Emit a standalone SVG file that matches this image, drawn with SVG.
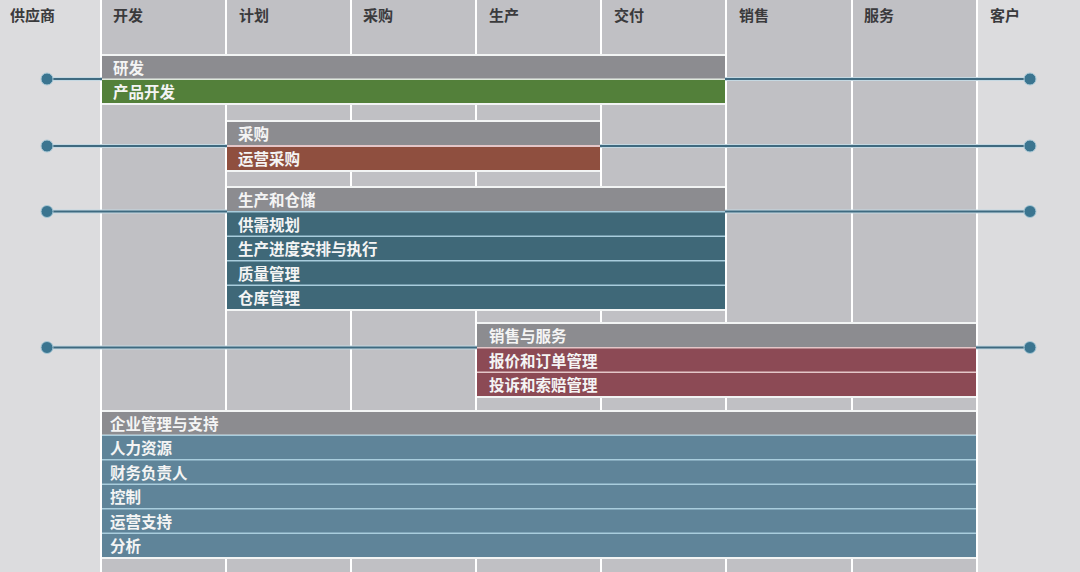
<svg xmlns="http://www.w3.org/2000/svg" width="1080" height="572" viewBox="0 0 1080 572">
<style>
.outer{fill:#dcdcde}
.col{fill:#c0c0c4}
.hd{font-family:"Noto Sans CJK SC","Noto Sans",sans-serif;font-size:15px;font-weight:bold;fill:#3a3a3c}
.lb{font-family:"Noto Sans CJK SC","Noto Sans",sans-serif;font-size:15.5px;font-weight:bold;fill:#f4f4f4}
.frame{fill:#f2f4f4}
.gray{fill:#8c8c90}
.green{fill:#53803a}
.brown{fill:#8f4f3f}
.teal{fill:#3f6878}
.wine{fill:#8c4a55}
.blue{fill:#5f8499}
.gapb{fill:#a9cddd}
.gapp{fill:#e4c6c8}
.gapg{fill:#dfe8dc}
.halo{stroke:#c4d8e2;stroke-width:4;fill:none}
.ln{stroke:#3f6a80;stroke-width:2;fill:none}
.dot{fill:#3b7590;stroke:#a8c8d6;stroke-width:1}
</style>
<rect x="0" y="0" width="1080" height="572" fill="#ffffff"/>
<g id="columns">
<rect class="outer" x="0" y="0" width="100" height="572"/>
<rect class="col" x="102" y="0" width="123" height="572"/>
<rect class="col" x="227" y="0" width="123" height="572"/>
<rect class="col" x="352" y="0" width="123" height="572"/>
<rect class="col" x="477" y="0" width="123" height="572"/>
<rect class="col" x="602" y="0" width="123" height="572"/>
<rect class="col" x="727" y="0" width="124" height="572"/>
<rect class="col" x="853" y="0" width="123" height="572"/>
<rect class="outer" x="978" y="0" width="102" height="572"/>
<text class="hd" x="10" y="21">供应商</text>
<text class="hd" x="113" y="21">开发</text>
<text class="hd" x="239" y="21">计划</text>
<text class="hd" x="363" y="21">采购</text>
<text class="hd" x="489" y="21">生产</text>
<text class="hd" x="614" y="21">交付</text>
<text class="hd" x="739" y="21">销售</text>
<text class="hd" x="864" y="21">服务</text>
<text class="hd" x="990" y="21">客户</text>
</g>
<g id="connectors">
<path class="halo" d="M47 79H102M725 79H1030M47 146H227M600 146H1030M47 211.5H227M725 211.5H1030M47 347.5H477M976 347.5H1030"/>
<path class="ln" d="M47 79H102M725 79H1030M47 146H227M600 146H1030M47 211.5H227M725 211.5H1030M47 347.5H477M976 347.5H1030"/>
<circle class="dot" cx="47" cy="79" r="6"/>
<circle class="dot" cx="1030" cy="79" r="6"/>
<circle class="dot" cx="47" cy="146" r="6"/>
<circle class="dot" cx="1030" cy="146" r="6"/>
<circle class="dot" cx="47" cy="211.5" r="6"/>
<circle class="dot" cx="1030" cy="211.5" r="6"/>
<circle class="dot" cx="47" cy="347.5" r="6"/>
<circle class="dot" cx="1030" cy="347.5" r="6"/>
</g>
<g id="rd">
<rect class="frame" x="102" y="54" width="623" height="51"/>
<rect class="gapg" x="102" y="78.5" width="623" height="2"/>
<rect class="gray" x="102" y="56" width="623" height="22.5"/>
<text class="lb" x="113" y="74">研发</text>
<rect class="green" x="102" y="80" width="623" height="23"/>
<text class="lb" x="113" y="98">产品开发</text>
</g>
<g id="purchasing">
<rect class="frame" x="227" y="120" width="373" height="52"/>
<rect class="gapp" x="227" y="145" width="373" height="2"/>
<rect class="gray" x="227" y="122" width="373" height="23"/>
<text class="lb" x="238" y="140">采购</text>
<rect class="brown" x="227" y="147" width="373" height="23"/>
<text class="lb" x="238" y="165">运营采购</text>
</g>
<g id="production">
<rect class="frame" x="227" y="186" width="498" height="125"/>
<rect class="gapb" x="227" y="211" width="498" height="98"/>
<rect class="gray" x="227" y="188" width="498" height="23"/>
<text class="lb" x="238" y="206">生产和仓储</text>
<rect class="teal" x="227" y="212.5" width="498" height="23"/>
<text class="lb" x="238" y="230.5">供需规划</text>
<rect class="teal" x="227" y="237" width="498" height="23"/>
<text class="lb" x="238" y="255">生产进度安排与执行</text>
<rect class="teal" x="227" y="261.5" width="498" height="23"/>
<text class="lb" x="238" y="279.5">质量管理</text>
<rect class="teal" x="227" y="286" width="498" height="23"/>
<text class="lb" x="238" y="304">仓库管理</text>
</g>
<g id="sales">
<rect class="frame" x="477" y="322" width="499" height="76"/>
<rect class="gapp" x="477" y="347" width="499" height="49"/>
<rect class="gray" x="477" y="324" width="499" height="23"/>
<text class="lb" x="489" y="342">销售与服务</text>
<rect class="wine" x="477" y="348.5" width="499" height="23"/>
<text class="lb" x="489" y="366.5">报价和订单管理</text>
<rect class="wine" x="477" y="373" width="499" height="23"/>
<text class="lb" x="489" y="391">投诉和索赔管理</text>
</g>
<g id="enterprise">
<rect class="frame" x="102" y="410" width="874" height="149"/>
<rect class="gapb" x="102" y="434.5" width="874" height="122.5"/>
<rect class="gray" x="102" y="412" width="874" height="22.5"/>
<text class="lb" x="110" y="430">企业管理与支持</text>
<rect class="blue" x="102" y="436" width="874" height="23"/>
<text class="lb" x="110" y="454">人力资源</text>
<rect class="blue" x="102" y="460.5" width="874" height="23"/>
<text class="lb" x="110" y="478.5">财务负责人</text>
<rect class="blue" x="102" y="485" width="874" height="23"/>
<text class="lb" x="110" y="503">控制</text>
<rect class="blue" x="102" y="509.5" width="874" height="23"/>
<text class="lb" x="110" y="527.5">运营支持</text>
<rect class="blue" x="102" y="534" width="874" height="23"/>
<text class="lb" x="110" y="552">分析</text>
</g>
</svg>
